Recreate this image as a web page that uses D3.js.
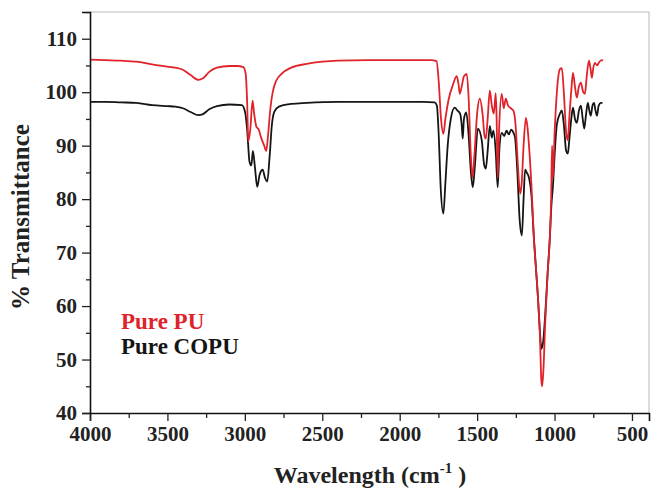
<!DOCTYPE html>
<html>
<head>
<meta charset="utf-8">
<script src="https://cdn.jsdelivr.net/npm/d3@7"></script>
<style>
  html, body { margin: 0; padding: 0; background: #fff; }
  svg { display: block; }
  text { font-family: "Liberation Serif", "Times New Roman", serif; font-weight: bold; }
</style>
</head>
<body>
<svg id="chart" width="651" height="490"></svg>
<script>
// ---- Data ----
const seriesNames = ["Pure PU", "Pure COPU"];
const seriesColors = ["#e0232a", "#151515"];

const xTickValues = [4000, 3500, 3000, 2500, 2000, 1500, 1000, 500];
const yTickValues = [40, 50, 60, 70, 80, 90, 100, 110];

// Pure PU (red)
const puWave = [4000,3900,3800,3700,3600,3500,3450,3400,3350,3300,3270,3230,3180,3100,3050,3010,
  2995,2985,2978,2965,2950,2940,2925,2910,2895,2875,2862,2850,2835,2820,2800,2760,2700,2600,2500,2400,
  2200,2000,1900,1800,1762,1748,1733,1718,1705,1685,1655,1632,1620,1612,1600,1585,1567,1555,1542,1530,
  1518,1500,1483,1465,1452,1444,1432,1418,1405,1392,1380,1374,1367,1358,1341,1328,1315,1300,1282,1265,
  1252,1238,1222,1212,1200,1185,1175,1165,1150,1134,1108,1095,1085,1080,1072,1060,1045,1030,1022,1016,
  1010,1000,985,965,953,940,925,914,905,890,881,868,856,843,830,815,804,792,778,768,759,750,739,725,710,695,687];
const puT = [106.1,106.0,105.9,105.7,105.2,104.8,104.6,104.2,103.2,102.3,102.6,103.8,104.6,104.9,104.9,104.7,
  103.5,98,90.8,93,98.4,96,93.5,93,91.5,90,89,92,97,100,102,103.5,104.6,105.3,105.7,105.9,
  106,106,106,106,105.8,102,95,92.2,95,98.5,101.5,103,101.5,99.7,101,103,103.4,99,89,84,
  88,96,98.8,96,91.8,91.3,95,100.3,97.5,96,99.8,95,84,93,99.7,97,98.8,97.5,97,96.5,
  94,87,81,83,90,95.2,93.5,90,83,73,62,55,46,45,48,57,66,73,80,90,
  84,92,100,104.3,104.5,100,92.5,91,95,101,103.6,101,99,101,101.8,100,99.7,103,105.9,104.5,102.7,104.5,105.5,105,105.7,106,105.9];

// Pure COPU (black)
const copuWave = [4000,3900,3800,3700,3600,3500,3450,3400,3350,3300,3270,3230,3180,3100,3020,
  3000,2985,2970,2958,2948,2935,2920,2905,2885,2870,2855,2840,2825,2810,2780,2700,2600,2400,
  2200,2000,1850,1775,1760,1748,1735,1718,1705,1690,1670,1645,1625,1610,1600,1593,1585,1570,
  1555,1540,1528,1515,1495,1470,1455,1444,1432,1418,1405,1395,1380,1367,1355,1341,1325,1310,
  1295,1280,1265,1255,1240,1225,1211,1200,1190,1180,1165,1150,1134,1108,1095,1085,1075,1060,
  1045,1030,1020,1011,1000,985,965,953,940,925,914,905,890,881,868,856,843,830,818,808,798,
  785,775,766,755,745,735,726,715,700,690];
const copuT = [98.2,98.2,98.1,98.0,97.6,97.4,97.3,97.0,96.3,95.7,95.9,96.8,97.4,97.7,97.6,
  96.5,93,87,86.3,89,86,82.3,84.5,85.5,84,83.3,88,94,96.3,97.3,97.8,98,98.2,
  98.2,98.2,98.2,98.1,97.5,92,82,77.3,83,90,95,97.1,96.5,96,94,91.3,95,96.2,
  92,85,82.2,86,93.2,91,86.5,85.7,89,93.7,91.5,92.8,89,82.2,90,92.4,91.8,92.8,
  92.1,93,92.4,91.5,85,76,73.2,80,85.5,85,84,81,73,62,55.5,52,53,58.5,
  66,73,79,82.2,88,94,96,96.6,94,89,88.5,91,95.5,97.1,95,94.3,96.5,97.5,95,93.2,95.5,
  98,96.5,95.6,97.5,98,96.5,95.6,97.5,98,98];

// ---- Layout ----
const svg = d3.select("#chart");
const L = 90, R = 649, T = 12, B = 413;

const x = d3.scaleLinear().domain([4000, 390]).range([L, R]);
const y = d3.scaleLinear().domain([40, 115]).range([B, T]);

// frame (top/right light)
svg.append("line").attr("x1", L).attr("x2", R).attr("y1", T).attr("y2", T)
  .attr("stroke", "#b8b8b8").attr("stroke-width", 1);
svg.append("line").attr("x1", R).attr("x2", R).attr("y1", T).attr("y2", B)
  .attr("stroke", "#b8b8b8").attr("stroke-width", 1);

// curves
const series = [
  { name: seriesNames[1], color: seriesColors[1], pts: copuWave.map((w, i) => [w, copuT[i]]) },
  { name: seriesNames[0], color: seriesColors[0], pts: puWave.map((w, i) => [w, puT[i]]) }
];
const line = d3.line().x(d => x(d[0])).y(d => y(d[1])).curve(d3.curveMonotoneX);
svg.selectAll("path.spec").data(series).enter().append("path")
  .attr("class", "spec")
  .attr("d", d => line(d.pts))
  .attr("fill", "none")
  .attr("stroke", d => d.color)
  .attr("stroke-width", 1.8)
  .attr("stroke-linejoin", "round");

// x axis
const xMinor = d3.range(3750, 400, -500);
const gx = svg.append("g").attr("transform", `translate(0,${B})`);
gx.call(d3.axisBottom(x).tickValues(xTickValues).tickFormat(d3.format("d")).tickSize(8).tickPadding(5));
const gxm = svg.append("g").attr("transform", `translate(0,${B})`);
gxm.call(d3.axisBottom(x).tickValues(xMinor).tickFormat("").tickSize(5));
gxm.select(".domain").remove();

// y axis
const yMinor = d3.range(45, 116, 10);
const gy = svg.append("g").attr("transform", `translate(${L},0)`);
gy.call(d3.axisLeft(y).tickValues(yTickValues).tickFormat(d3.format("d")).tickSize(8).tickPadding(5));
const gym = svg.append("g").attr("transform", `translate(${L},0)`);
gym.call(d3.axisLeft(y).tickValues(yMinor).tickFormat("").tickSize(4));
gym.select(".domain").remove();

[gx, gy, gxm, gym].forEach(g => {
  g.selectAll("path.domain").attr("stroke", "#111").attr("stroke-width", 1.6);
  g.selectAll(".tick line").attr("stroke", "#222").attr("stroke-width", 1.3);
  g.selectAll(".tick text").attr("font-family", "Liberation Serif, Times New Roman, serif")
    .attr("font-weight", "bold").attr("font-size", 21).attr("fill", "#222");
});

// axis titles
svg.append("text")
  .attr("transform", `translate(29,217) rotate(-90)`)
  .attr("text-anchor", "middle")
  .attr("font-size", 25)
  .attr("fill", "#222")
  .text("% Transmittance");

const xt = svg.append("text")
  .attr("x", 370).attr("y", 483)
  .attr("text-anchor", "middle")
  .attr("font-size", 24)
  .attr("fill", "#222");
xt.append("tspan").text("Wavelength (cm");
xt.append("tspan").attr("font-size", 15).attr("dy", -10).text("-1");
xt.append("tspan").attr("dy", 10).text(" )");

// legend
svg.selectAll("text.leg").data(seriesNames).enter().append("text")
  .attr("class", "leg")
  .attr("x", 121)
  .attr("y", (d, i) => 329 + i * 25)
  .attr("font-size", 23)
  .attr("fill", (d, i) => seriesColors[i])
  .text(d => d);
</script>
</body>
</html>
